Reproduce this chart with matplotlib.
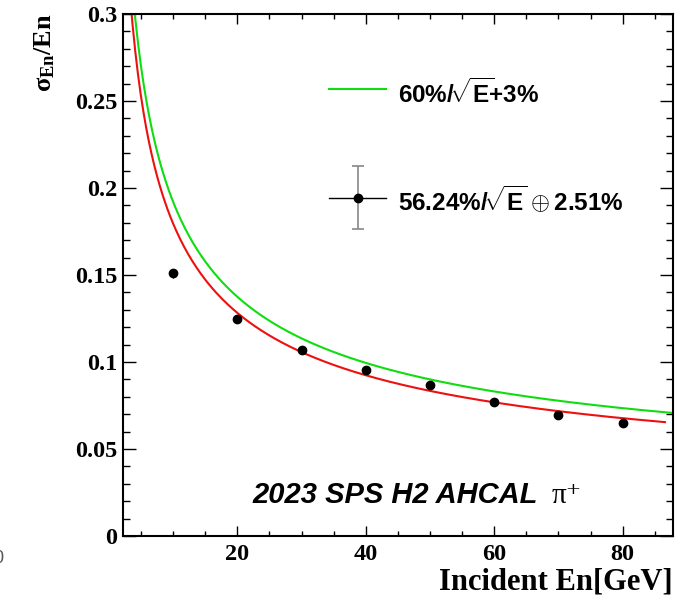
import numpy as np
import matplotlib
matplotlib.use("Agg")
import matplotlib.pyplot as plt
from matplotlib.lines import Line2D
from matplotlib.ticker import MultipleLocator, FixedLocator, FixedFormatter
from matplotlib.legend_handler import HandlerErrorbar, HandlerTuple, HandlerLine2D
from matplotlib.container import ErrorbarContainer

plt.rcParams["mathtext.fontset"] = "custom"
plt.rcParams["mathtext.rm"] = "Liberation Serif:bold"
plt.rcParams["mathtext.it"] = "Liberation Serif:bold"
plt.rcParams["mathtext.bf"] = "Liberation Serif:bold"
plt.rcParams["mathtext.sf"] = "Liberation Sans:bold"

# beam energies [GeV] and measured resolution
energy = [10, 20, 30, 40, 50, 60, 70, 80]
resolution = [0.151, 0.1249, 0.1069, 0.0956, 0.0868, 0.0772, 0.0697, 0.0651]
res_err = [0.0027, 0.0015, 0.0012, 0.001, 0.001, 0.001, 0.001, 0.001]

# resolution functions: stochastic term, constant term
ref_stoch, ref_const = 0.60, 0.03
fit_stoch, fit_const = 0.5624, 0.0251

y_ticks = [0, 0.05, 0.1, 0.15, 0.2, 0.25, 0.3]
y_ticklabels = ["0", "0.05", "0.1", "0.15", "0.2", "0.25", "0.3"]
x_ticks = [20, 40, 60, 80]
xmin, xmax = 2.2, 87.8


def reso(e, a, b):
    return np.sqrt(a**2 / e + b**2)


# legend handlers that sit a bit above the text centre (like ROOT)
class LineUp(HandlerLine2D):
    def __init__(self, dy, **kw):
        super().__init__(**kw)
        self.dy = dy

    def create_artists(self, legend, orig_handle, xdescent, ydescent, width, height, fontsize, trans):
        return super().create_artists(legend, orig_handle, xdescent, ydescent - 2 * self.dy,
                                      width, height, fontsize, trans)


class TupleUp(HandlerTuple):
    def __init__(self, dy, **kw):
        super().__init__(**kw)
        self.dy = dy

    def create_artists(self, legend, orig_handle, xdescent, ydescent, width, height, fontsize, trans):
        return super().create_artists(legend, orig_handle, xdescent, ydescent - 2 * self.dy,
                                      width, height, fontsize, trans)


fig = plt.figure(figsize=(6.84, 5.97), dpi=100)
ax = fig.add_axes([123 / 684, 1 - 536 / 597, (672.7 - 123) / 684, (536 - 14) / 597])

e_ref = np.linspace(xmin, xmax, 400)
e_fit = np.linspace(xmin, 86.6, 400)
green, = ax.plot(e_ref, reso(e_ref, ref_stoch, ref_const), color="#10dd10", lw=1.5)
ax.plot(e_fit, reso(e_fit, fit_stoch, fit_const), color="#ee1010", lw=1.5)

ax.errorbar(energy, resolution, yerr=res_err, fmt="o", color="k", ms=6,
            elinewidth=1, capsize=0)

# proxy for the legend entry of the fit
proxy = ax.errorbar([np.nan], [np.nan], yerr=[1], fmt="o", color="k", ms=6,
                    ecolor="#888888", elinewidth=1.2, capsize=4, capthick=1.2)
hline = Line2D([], [], color="k", lw=1)

ax.legend([green, (hline, proxy)],
          [r"$\mathsf{60\%/\!\sqrt{E}\!{+}3\%}$",
           r"$\mathsf{56.24\%/\!\sqrt{E}\:{\oplus}\:2.51\%}$"],
          handler_map={ErrorbarContainer: HandlerErrorbar(yerr_size=1.3),
                       tuple: TupleUp(3.8, ndivide=1),
                       green: LineUp(3.6)},
          loc="upper left", bbox_to_anchor=(329 / 684, 1 - 78 / 597),
          bbox_transform=fig.transFigure, frameon=False, fontsize=17.5,
          borderpad=0, borderaxespad=0, handlelength=2.35, handletextpad=0.5,
          labelspacing=3.2, numpoints=1)

ax.set_xlim(xmin, xmax)
ax.set_ylim(0, 0.3)
ax.xaxis.set_major_locator(FixedLocator(x_ticks))
ax.xaxis.set_minor_locator(MultipleLocator(5))
ax.yaxis.set_major_locator(FixedLocator(y_ticks))
ax.yaxis.set_major_formatter(FixedFormatter(y_ticklabels))
ax.yaxis.set_minor_locator(MultipleLocator(0.01))

ax.tick_params(which="both", direction="in", top=True, right=True, width=1)
ax.tick_params(axis="x", which="major", length=7, pad=6)
ax.tick_params(axis="x", which="minor", length=3.6)
ax.tick_params(axis="y", which="major", length=9.4, pad=4)
ax.tick_params(axis="y", which="minor", length=4.7)
for lab in ax.get_xticklabels() + ax.get_yticklabels():
    lab.set_family("Liberation Serif")
    lab.set_weight("bold")
    lab.set_size(17.5)
for sp in ax.spines.values():
    sp.set_linewidth(1.5)

ax.text(22.4, 0.019, "2023 SPS H2 AHCAL", family="Liberation Sans",
        weight="bold", style="italic", size=21, ha="left", va="baseline")
ax.text(69.0, 0.019, "π⁺", family=["Liberation Serif", "DejaVu Serif"],
        size=21, ha="left", va="baseline")

fig.text(672.7 / 684, 1 - 590 / 597, "Incident En[GeV]", family="Liberation Serif",
         weight="bold", size=22, ha="right", va="baseline")
fig.text(45 / 684, 1 - 13 / 597, r"$\sigma_{\mathrm{En}}$/En", family="Liberation Serif",
         weight="bold", size=19, rotation=90, ha="center", va="top")
# clipped label remnant at the left edge
fig.text(3 / 684, 1 - 563 / 597, "0", family="Liberation Sans", size=13,
         color="#555555", ha="right", va="baseline")

fig.savefig("out.png", dpi=100)
